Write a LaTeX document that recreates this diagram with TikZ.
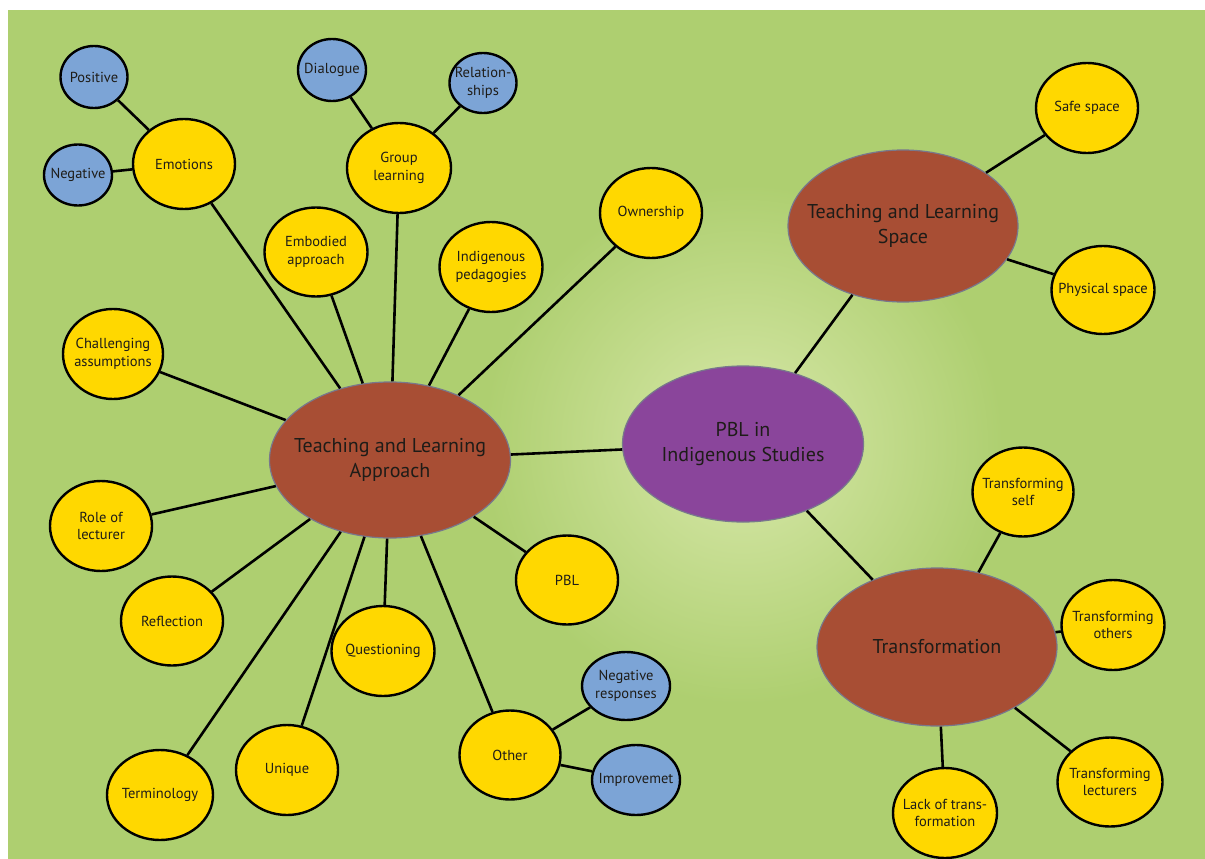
\documentclass[tikz,border=0pt]{standalone}
\usepackage{fontspec}
\setmainfont{PT Sans}
\usetikzlibrary{shapes.geometric}
\definecolor{bggreen}{RGB}{174,207,112}
\definecolor{glow}{RGB}{216,232,170}
\definecolor{ylw}{RGB}{255,216,0}
\definecolor{blu}{RGB}{124,164,214}
\definecolor{brn}{RGB}{168,78,52}
\definecolor{prp}{RGB}{138,69,155}
\definecolor{rim}{RGB}{120,120,140}
\definecolor{txt}{RGB}{30,28,24}
\tikzset{
  bub/.style={ellipse, draw=black, line width=2.4pt, text=txt, align=center,
    inner xsep=-25pt, inner ysep=-12pt,
    font=\fontsize{14.5}{17.5}\selectfont},
  yel/.style={bub, fill=ylw},
  blue/.style={bub, fill=blu},
  big/.style={ellipse, draw=rim, line width=1.2pt, inner sep=0pt},
  bigtext/.style={text=txt, align=center, inner sep=0pt, font=\fontsize{20}{25}\selectfont},
  sz/.style 2 args={minimum width=#1pt, minimum height=#2pt},
  conn/.style={draw=black, line width=2.6pt}
}
\begin{document}
\begin{tikzpicture}[x=1pt,y=-1pt]
\useasboundingbox (0,0) rectangle (1205,859);
\fill[white] (0,0) rectangle (1205,859);
\fill[bggreen] (8,10) rectangle (1205,859);
\begin{scope}
\clip (8,10) rectangle (1205,859);
\shade[inner color=glow, outer color=bggreen] (743,444) circle (260);
\end{scope}

% main nodes
\node[big, fill=prp, sz={241}{156}, label={[bigtext]center:PBL in\\Indigenous Studies}] (pbl) at (743,444) {};
\node[big, fill=brn, sz={241}{156}, label={[bigtext]center:Teaching and Learning\\Approach}] (tla) at (390,460) {};
\node[big, fill=brn, sz={230}{152}, label={[bigtext]center:Teaching and Learning\\Space}] (tls) at (903,226) {};
\node[big, fill=brn, sz={240}{158}, label={[bigtext]center:Transformation}] (tr) at (937,647) {};

% approach children
\node[yel, sz={102}{90}] (emo) at (184,164) {Emotions};
\node[blue, sz={67}{62}] (pos) at (94,77) {Positive};
\node[blue, sz={68}{61}] (neg) at (78,175) {Negative};
\node[yel, sz={104}{90}] (grp) at (399,168) {Group\\learning};
\node[blue, sz={68}{62}] (dia) at (332,70) {Dialogue};
\node[blue, sz={67}{60}] (rel) at (483,83) {Relation-\\ships};
\node[yel, sz={103}{89}] (emb) at (316,252) {Embodied\\approach};
\node[yel, sz={103}{90}] (ind) at (491,267) {Indigenous\\pedagogies};
\node[yel, sz={102}{90}] (own) at (651,213) {Ownership};
\node[yel, sz={100}{90}] (cha) at (113,354) {Challenging\\assumptions};
\node[yel, sz={102}{90}] (rol) at (101,526) {Role of\\lecturer};
\node[yel, sz={102}{89}] (ref) at (172,621) {Reflection};
\node[yel, sz={106}{90}] (ter) at (160,795) {Terminology};
\node[yel, sz={102}{90}] (uni) at (287,770) {Unique};
\node[yel, sz={103}{90}] (que) at (383,651) {Questioning};
\node[yel, sz={102}{89}] (pblc) at (567,580) {PBL};
\node[yel, sz={101}{89}] (oth) at (510,755) {Other};
\node[blue, sz={88}{68}] (nr) at (626,686) {Negative\\responses};
\node[blue, sz={88}{70}] (imp) at (636,780) {Improvemet};

% space children
\node[yel, sz={102}{90}] (safe) at (1087,108) {Safe space};
\node[yel, sz={103}{88}] (phys) at (1103,290) {Physical space};

% transformation children
\node[yel, sz={101}{89}] (ts) at (1023,492) {Transforming\\self};
\node[yel, sz={103}{90}] (to) at (1113,625) {Transforming\\others};
\node[yel, sz={105}{89}] (tl) at (1110,782) {Transforming\\lecturers};
\node[yel, sz={104}{90}] (lack) at (945,813) {Lack of trans-\\formation};

% connectors
\foreach \c in {emo,grp,emb,ind,own,cha,rol,ref,ter,uni,que,pblc,oth,pbl}
  \draw[conn] (tla) -- (\c);
\draw[conn] (emo) -- (pos);
\draw[conn] (emo) -- (neg);
\draw[conn] (grp) -- (dia);
\draw[conn] (grp) -- (rel);
\draw[conn] (oth) -- (nr);
\draw[conn] (oth) -- (imp);
\draw[conn] (pbl) -- (tls);
\draw[conn] (pbl) -- (tr);
\draw[conn] (tls) -- (safe);
\draw[conn] (tls) -- (phys);
\foreach \c in {ts,to,tl,lack}
  \draw[conn] (tr) -- (\c);
\end{tikzpicture}
\end{document}
